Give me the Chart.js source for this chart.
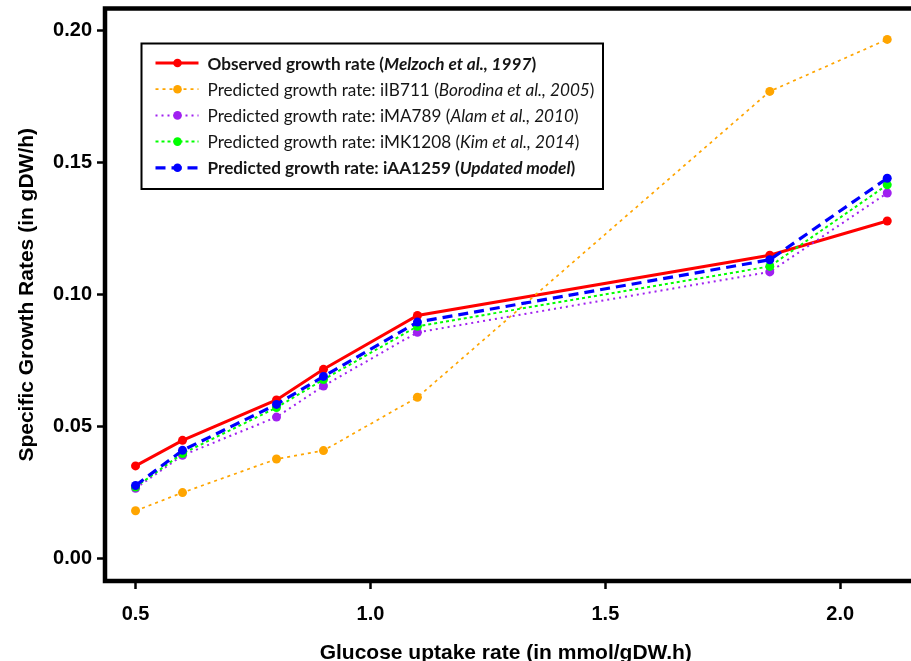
<!DOCTYPE html>
<html>
<head>
<meta charset="utf-8">
<script src="https://cdn.jsdelivr.net/npm/chart.js@4.4.1/dist/chart.umd.min.js"></script>
<style>
  html, body { margin: 0; padding: 0; background: #fff; overflow: hidden; }
  #wrap { width: 911px; height: 661px; }
</style>
</head>
<body>
<div id="wrap"><canvas id="growth" width="911" height="661"></canvas></div>
<script>
// glucose uptake rates (mmol/gDW.h)
var uptake = [0.5, 0.6, 0.8, 0.9, 1.1, 1.85, 2.1];

// specific growth rates (gDW/h)
var observed = [0.035, 0.0447, 0.060, 0.0716, 0.092, 0.1148, 0.1278];
var iIB711   = [0.018, 0.0249, 0.0376, 0.0408, 0.061, 0.1769, 0.1966];
var iMA789   = [0.0265, 0.039, 0.0535, 0.0653, 0.0856, 0.1085, 0.1384];
var iMK1208  = [0.027, 0.0397, 0.0571, 0.0677, 0.0879, 0.1106, 0.1415];
var iAA1259  = [0.0276, 0.0409, 0.0583, 0.0689, 0.0895, 0.1131, 0.144];

var xTicks = [0.5, 1.0, 1.5, 2.0];
var yTicks = [0.00, 0.05, 0.10, 0.15, 0.20];

// legend text split in runs: b = bold, i = italic
var legendRows = [
  [["Observed growth rate (", "b"], ["Melzoch et al., 1997", "bi"], [")", "b"]],
  [["Predicted growth rate: iIB711 (", ""], ["Borodina et al., 2005", "i"], [")", ""]],
  [["Predicted growth rate: iMA789 (", ""], ["Alam et al., 2010", "i"], [")", ""]],
  [["Predicted growth rate: iMK1208 (", ""], ["Kim et al., 2014", "i"], [")", ""]],
  [["Predicted growth rate: iAA1259 (", "b"], ["Updated model", "bi"], [")", "b"]]
];

function pts(ys) {
  return uptake.map(function (x, i) { return { x: x, y: ys[i] }; });
}

function series(label, ys, color, width, dash, order) {
  return {
    label: label,
    data: pts(ys),
    borderColor: color,
    backgroundColor: color,
    pointBackgroundColor: color,
    pointBorderColor: color,
    pointBorderWidth: 0,
    pointRadius: 4.5,
    borderWidth: width,
    borderDash: dash,
    tension: 0,
    order: order
  };
}

var tickFont = { family: "'Liberation Sans', Arial, sans-serif", size: 20, weight: 'bold' };
var titleFont = { family: "'Liberation Sans', Arial, sans-serif", size: 21, weight: 'bold', lineHeight: 0.9 };

function legendFont(style, size) {
  var f = '';
  if (style.indexOf('i') >= 0) f += 'italic ';
  if (style.indexOf('b') >= 0) f += 'bold ';
  return f + size + "px Lato, 'Open Sans', sans-serif";
}

// no extra room for the end labels, the box is placed by layout padding
function noEdgePadding(s) {
  s.paddingTop = 0;
  s.paddingBottom = 0;
  s.paddingLeft = 0;
  s.paddingRight = 0;
}

var frameAndLegend = {
  id: 'frameAndLegend',
  afterDatasetsDraw: function (chart) {
    var ctx = chart.ctx;
    var a = chart.chartArea;
    ctx.save();
    // plot box
    ctx.lineWidth = 4.5;
    ctx.strokeStyle = '#000';
    ctx.strokeRect(a.left, a.top, a.right - a.left + 20, a.bottom - a.top);

    // legend
    var x0 = a.left + 36.5, y0 = a.top + 35, w = 461.5, h = 145.5;
    ctx.fillStyle = '#fff';
    ctx.fillRect(x0, y0, w, h);
    ctx.lineWidth = 2;
    ctx.strokeRect(x0, y0, w, h);

    // pick the size so the widest row spans like in the figure
    var size = 15, tw = 0;
    legendRows[1].forEach(function (r) {
      ctx.font = legendFont(r[1], size);
      tw += ctx.measureText(r[0]).width;
    });
    size = Math.max(12, Math.min(18, size * 387 / tw));

    legendRows.forEach(function (runs, i) {
      var ds = chart.data.datasets[i];
      var y = y0 + 19.5 + i * 26.2;
      ctx.setLineDash(ds.borderDash || []);
      ctx.lineWidth = ds.borderWidth;
      ctx.strokeStyle = ds.borderColor;
      ctx.beginPath();
      ctx.moveTo(x0 + 14, y);
      ctx.lineTo(x0 + 57, y);
      ctx.stroke();
      ctx.setLineDash([]);
      ctx.fillStyle = ds.pointBackgroundColor;
      ctx.beginPath();
      ctx.arc(x0 + 36, y, 4.3, 0, Math.PI * 2);
      ctx.fill();
      var tx = x0 + 66;
      ctx.textBaseline = 'middle';
      ctx.fillStyle = '#151515';
      runs.forEach(function (r) {
        ctx.font = legendFont(r[1], size);
        ctx.fillText(r[0], tx, y + 1);
        tx += ctx.measureText(r[0]).width;
      });
    });
    ctx.restore();
  }
};

new Chart(document.getElementById('growth'), {
  type: 'line',
  data: {
    datasets: [
      series('Observed growth rate', observed, '#FF0000', 3, [], 5),
      series('iIB711', iIB711, '#FFA500', 1.7, [3, 4], 4),
      series('iMA789', iMA789, '#A020F0', 2, [2, 4], 3),
      series('iMK1208', iMK1208, '#00FF00', 2, [3, 3], 2),
      series('iAA1259', iAA1259, '#0000FF', 3.2, [10, 6], 1)
    ]
  },
  options: {
    responsive: false,
    animation: false,
    devicePixelRatio: 1,
    layout: { padding: { top: 8.5, left: 0, right: 0, bottom: 0 } },
    plugins: { legend: { display: false }, tooltip: { enabled: false } },
    scales: {
      x: {
        type: 'linear',
        min: 0.435,
        max: 2.141,
        afterBuildTicks: function (s) { s.ticks = xTicks.map(function (v) { return { value: v }; }); },
        afterFit: function (s) { s.height = 80; noEdgePadding(s); },
        ticks: {
          font: tickFont,
          color: '#000',
          padding: 13,
          maxRotation: 0,
          callback: function (v) { return v.toFixed(1); }
        },
        grid: { drawOnChartArea: false, drawTicks: true, tickLength: 8, tickWidth: 2.5, tickColor: '#000' },
        border: { display: false },
        title: {
          display: true,
          text: 'Glucose uptake rate (in mmol/gDW.h)',
          font: titleFont,
          color: '#000',
          padding: { top: 0, bottom: -2 }
        }
      },
      y: {
        min: -0.0086,
        max: 0.2083,
        afterBuildTicks: function (s) { s.ticks = yTicks.map(function (v) { return { value: v }; }); },
        afterFit: function (s) { s.width = 105; noEdgePadding(s); },
        ticks: {
          font: tickFont,
          color: '#000',
          padding: 5,
          callback: function (v) { return v.toFixed(2); }
        },
        grid: { drawOnChartArea: false, drawTicks: true, tickLength: 8, tickWidth: 2.5, tickColor: '#000' },
        border: { display: false },
        title: {
          display: true,
          text: 'Specific Growth Rates (in gDW/h)',
          font: titleFont,
          color: '#000',
          padding: { top: 18, bottom: 0 }
        }
      }
    }
  },
  plugins: [frameAndLegend]
});
</script>
</body>
</html>
